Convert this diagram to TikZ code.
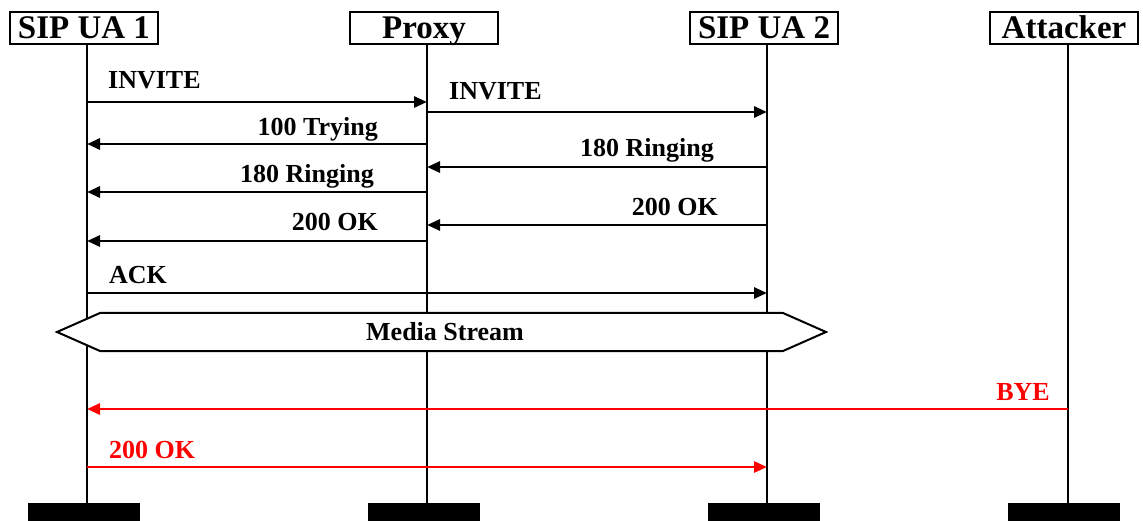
\documentclass[tikz,border=0pt]{standalone}
\usepackage{fontspec}
\setmainfont{Liberation Serif}
\usetikzlibrary{arrows.meta}
\definecolor{attack}{RGB}{255,0,0}
\tikzset{
  x=1pt, y=-1pt,
  actor/.style={draw, line width=1.8pt, inner sep=0pt, minimum width=148pt,
    text height=27pt, text depth=5pt, anchor=north,
    font=\fontsize{33}{36}\selectfont\bfseries},
  lifeline/.style={line width=1.8pt},
  msg/.style={line width=2.9pt, -{Triangle[length=13pt,width=11pt]}},
  attackmsg/.style={msg, draw=attack},
  lbl/.style={inner sep=0pt, font=\fontsize{26}{30}\selectfont\bfseries},
  endbar/.style={fill=black, draw=none, minimum width=112pt, minimum height=18pt,
    inner sep=0pt, anchor=south},
}
\begin{document}
\begin{tikzpicture}
\useasboundingbox (0,0) rectangle (1143,521);

% lifeline positions
\coordinate (l1) at (87,0);
\coordinate (l2) at (427,0);
\coordinate (l3) at (767,0);
\coordinate (l4) at (1068,0);

% participants
\node[actor] (ua1) at (84,11) {SIP UA 1};
\node[actor] (px)  at (424,11) {Proxy};
\node[actor] (ua2) at (764,11) {SIP UA 2};
\node[actor] (att) at (1064,11) {Attacker};

% end bars
\node[endbar] (b1) at (84,521) {};
\node[endbar] (b2) at (424,521) {};
\node[endbar] (b3) at (764,521) {};
\node[endbar] (b4) at (1064,521) {};

% lifelines
\draw[lifeline] (l1 |- ua1.south) -- (l1 |- b1.north);
\draw[lifeline] (l2 |- px.south)  -- (l2 |- b2.north);
\draw[lifeline] (l3 |- ua2.south) -- (l3 |- b3.north);
\draw[lifeline] (l4 |- att.south) -- (l4 |- b4.north);

% call setup
\draw[msg] (l1 |- 0,102) -- (l2 |- 0,102);
\node[lbl, anchor=base west] at (108,89) {INVITE};
\draw[msg] (l2 |- 0,112) -- (l3 |- 0,112);
\node[lbl, anchor=base west] at (449,100) {INVITE};
\draw[msg] (l2 |- 0,144) -- (l1 |- 0,144);
\node[lbl, anchor=base east] at (378,136) {100 Trying};
\draw[msg] (l3 |- 0,167) -- (l2 |- 0,167);
\node[lbl, anchor=base east] at (714,157) {180 Ringing};
\draw[msg] (l2 |- 0,192) -- (l1 |- 0,192);
\node[lbl, anchor=base east] at (374,183) {180 Ringing};
\draw[msg] (l3 |- 0,225) -- (l2 |- 0,225);
\node[lbl, anchor=base east] at (718,216) {200 OK};
\draw[msg] (l2 |- 0,241) -- (l1 |- 0,241);
\node[lbl, anchor=base east] at (378,231) {200 OK};
\draw[msg] (l1 |- 0,293) -- (l3 |- 0,293);
\node[lbl, anchor=base west] at (109,284) {ACK};

% media stream
\draw[line width=2pt, fill=white] (57,332) -- (100,313) -- (783,313) -- (826,332)
  -- (783,351) -- (100,351) -- cycle;
\node[lbl, anchor=base] (media) at (445,341) {Media Stream};

% forged teardown
\draw[attackmsg] (l4 |- 0,409) -- (l1 |- 0,409);
\node[lbl, anchor=base east, text=attack] at (1050,400) {BYE};
\draw[attackmsg] (l1 |- 0,467) -- (l3 |- 0,467);
\node[lbl, anchor=base west, text=attack] at (109,458) {200 OK};
\end{tikzpicture}
\end{document}
